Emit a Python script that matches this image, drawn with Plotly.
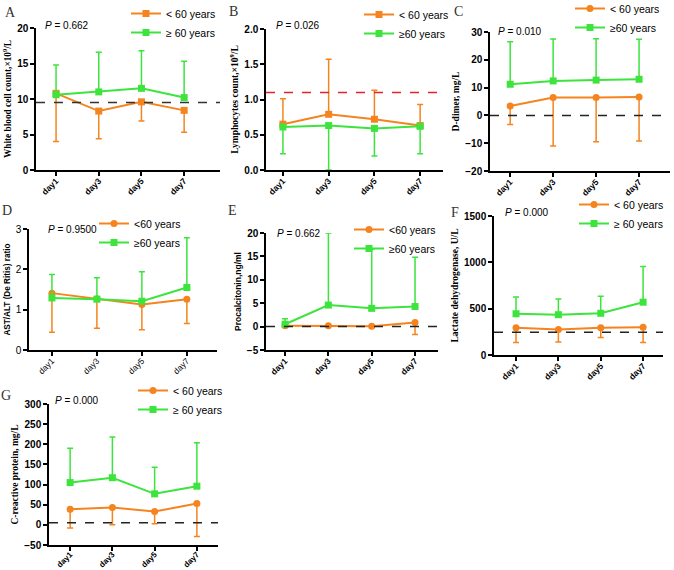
import plotly.graph_objects as go

W, H = 674, 570
days = ["day1", "day3", "day5", "day7"]

# ---- data (means and one-sided error bounds) ----
A_young = [10.8, 8.3, 9.6, 8.4]
A_young_low = [4.0, 4.4, 6.9, 5.3]
A_old = [10.6, 11.0, 11.5, 10.2]
A_old_high = [14.8, 16.6, 16.8, 15.3]
A_ref = 9.5

B_young = [0.65, 0.79, 0.72, 0.63]
B_young_high = [1.01, 1.57, 1.13, 0.93]
B_old = [0.61, 0.63, 0.59, 0.62]
B_old_low = [0.23, 0.0, 0.20, 0.23]
B_ref = 1.1

C_young = [3.4, 6.4, 6.4, 6.6]
C_young_low = [-3.3, -11.0, -9.5, -9.2]
C_old = [11.2, 12.4, 12.7, 13.0]
C_old_high = [26.5, 27.5, 27.6, 27.4]
C_ref = 0

D_young = [1.41, 1.27, 1.13, 1.26]
D_young_low = [0.44, 0.54, 0.50, 0.66]
D_old = [1.29, 1.26, 1.21, 1.55]
D_old_high = [1.87, 1.79, 1.94, 2.78]

E_young = [0.2, 0.2, 0.1, 0.9]
E_young_low = [0.1, 0.1, 0.0, -1.7]
E_old = [0.5, 4.6, 3.9, 4.3]
E_old_high = [1.7, 20.0, 16.6, 14.8]
E_ref = 0

F_young = [295, 275, 295, 300]
F_young_low = [135, 140, 190, 135]
F_old = [445, 435, 450, 570]
F_old_high = [625, 605, 635, 955]
F_ref = 245

G_young = [39, 43, 33, 53]
G_young_low = [-8, 0, 3, -29]
G_old = [105, 117, 77, 96]
G_old_high = [190, 218, 143, 204]
G_ref = 5

ORANGE = "#F5841F"
GREEN = "#3DE43D"
SERIF = "Liberation Serif"
SANS = "Liberation Sans"

panels = [
    dict(letter="A", px=(36, 220, 28, 170), xr=(-0.47, 3.84), yr=(0, 20), dt=5,
         young=A_young, ylo=A_young_low, old=A_old, ohi=A_old_high, ref=A_ref, refc="#333",
         title="White blood cell count,×10<sup>9</sup>/L", tfont=SERIF, tsize=9.3,
         p="0.662", ppos=(43, 25), lpos=(170, 14), letpos=(10, 13),
         names=("< 60 years", "≥ 60 years"), ysym="square", flip=False),
    dict(letter="B", px=(266, 443, 29, 170), xr=(-0.37, 3.50), yr=(0, 2), dt=0.5,
         young=B_young, ylo=B_young_high, old=B_old, ohi=B_old_low, ref=B_ref, refc="#E8202A",
         title="Lymphocytes count,×10<sup>9</sup>/L", tfont=SERIF, tsize=9.5,
         p="0.026", ppos=(274, 25), lpos=(403, 15), letpos=(233, 12),
         names=("< 60 years", "≥60 years"), ysym="square", flip=True, fmt=".1f"),
    dict(letter="C", px=(490, 670, 32, 171), xr=(-0.47, 3.72), yr=(-20, 30), dt=10,
         young=C_young, ylo=C_young_low, old=C_old, ohi=C_old_high, ref=C_ref, refc="#222",
         title="D-dimer, mg/L", tfont=SERIF, tsize=9.5,
         p="0.010", ppos=(496, 32), lpos=(614, 9), letpos=(458, 12),
         names=("< 60 years", "≥60 years"), ysym="circle", flip=False),
    dict(letter="D", px=(29, 217, 229, 350), xr=(-0.51, 3.67), yr=(0, 3), dt=1,
         young=D_young, ylo=D_young_low, old=D_old, ohi=D_old_high, ref=None, refc=None,
         title="AST/ALT (De Ritis) ratio", tfont=SANS, tsize=8.2,
         p="0.9500", ppos=(46, 229), lpos=(138, 224), letpos=(7, 210),
         names=("<60 years", "≥60 years"), ysym="circle", flip=False, plain=True),
    dict(letter="E", px=(266, 438, 233, 350), xr=(-0.44, 3.53), yr=(-5, 20), dt=5,
         young=E_young, ylo=E_young_low, old=E_old, ohi=E_old_high, ref=E_ref, refc="#222",
         title="Procalcitonin,ng/ml", tfont=SANS, tsize=8.5,
         p="0.662", ppos=(275, 234), lpos=(393, 230), letpos=(232, 210),
         names=("<60 years", "≥60 years"), ysym="circle", flip=False),
    dict(letter="F", px=(494, 663, 216, 355), xr=(-0.52, 3.47), yr=(0, 1500), dt=500,
         young=F_young, ylo=F_young_low, old=F_old, ohi=F_old_high, ref=F_ref, refc="#222",
         title="Lactate dehydrogenase, U/L", tfont=SERIF, tsize=9.5,
         p="0.000", ppos=(503, 212), lpos=(618, 205), letpos=(455, 212),
         names=("< 60 years", "≥ 60 years"), ysym="circle", flip=False),
    dict(letter="G", px=(49, 218, 404, 545), xr=(-0.5, 3.5), yr=(-50, 300), dt=50,
         young=G_young, ylo=G_young_low, old=G_old, ohi=G_old_high, ref=G_ref, refc="#222",
         title="C-reactive protein, mg/L", tfont=SERIF, tsize=9.5,
         p="0.000", ppos=(53, 400), lpos=(177, 391), letpos=(6, 395),
         names=("< 60 years", "≥ 60 years"), ysym="circle", flip=False,
         xfs=8, xso=-4),
]

fig = go.Figure()
layout = dict(width=W, height=H, margin=dict(l=0, r=0, t=0, b=0, autoexpand=False),
              paper_bgcolor="white", plot_bgcolor="white", showlegend=True)
annotations = []
shapes = []

for i, p in enumerate(panels):
    n = i + 1
    xs = "" if n == 1 else str(n)
    xa, ya = "x" + xs, "y" + xs
    lg = "legend" + xs
    x0, x1, yt, yb = p["px"]
    plain = p.get("plain", False)
    tw = "normal" if plain else "bold"

    young, ybound = p["young"], p["ylo"]
    old, obound = p["old"], p["ohi"]
    if not p["flip"]:
        ey = dict(type="data", symmetric=False, array=[0] * 4,
                  arrayminus=[m - b for m, b in zip(young, ybound)],
                  color=ORANGE, thickness=1.5, width=3)
        eo = dict(type="data", symmetric=False, arrayminus=[0] * 4,
                  array=[b - m for m, b in zip(old, obound)],
                  color=GREEN, thickness=1.5, width=3)
    else:
        ey = dict(type="data", symmetric=False, arrayminus=[0] * 4,
                  array=[b - m for m, b in zip(young, ybound)],
                  color=ORANGE, thickness=1.5, width=3)
        eo = dict(type="data", symmetric=False, array=[0] * 4,
                  arrayminus=[m - b for m, b in zip(old, obound)],
                  color=GREEN, thickness=1.5, width=3)

    fig.add_trace(go.Scatter(x=days, y=young, name=p["names"][0], mode="lines+markers",
                             line=dict(color=ORANGE, width=2),
                             marker=dict(symbol=p["ysym"], size=7, color=ORANGE),
                             error_y=ey, xaxis=xa, yaxis=ya, legend=lg))
    fig.add_trace(go.Scatter(x=days, y=old, name=p["names"][1], mode="lines+markers",
                             line=dict(color=GREEN, width=2),
                             marker=dict(symbol="square", size=7, color=GREEN),
                             error_y=eo, xaxis=xa, yaxis=ya, legend=lg))

    axkw = dict(showline=True, linecolor="black", linewidth=1.5, ticks="outside",
                ticklen=4, tickwidth=1.5, tickcolor="black", showgrid=False,
                zeroline=False)
    layout["xaxis" + xs] = dict(axkw, domain=[x0 / W, x1 / W], anchor=ya,
                                range=list(p["xr"]), tickangle=-45,
                                ticklabelstandoff=p.get("xso", -3),
                                tickfont=dict(family=SANS, size=p.get("xfs", 8.5),
                                              color="black", weight=tw),
                                categoryorder="array", categoryarray=days)
    yax = dict(axkw, domain=[1 - yb / H, 1 - yt / H], anchor=xa,
               range=list(p["yr"]), dtick=p["dt"], tick0=0,
               tickfont=dict(family=SANS, size=10, color="black", weight=tw),
               title=dict(text=p["title"], standoff=4,
                          font=dict(family=p["tfont"], size=p["tsize"],
                                    color="black", weight="bold")))
    if "fmt" in p:
        yax["tickformat"] = p["fmt"]
    layout["yaxis" + xs] = yax

    if p["ref"] is not None:
        shapes.append(dict(type="line", xref=xa + " domain", yref=ya, x0=0, x1=1,
                           y0=p["ref"], y1=p["ref"],
                           line=dict(color=p["refc"], width=1.5, dash="dash")))

    annotations.append(dict(xref="paper", yref="paper", x=p["ppos"][0] / W,
                            y=1 - p["ppos"][1] / H, xanchor="left", yanchor="middle",
                            showarrow=False, text="<i>P</i> = " + p["p"],
                            font=dict(family=SANS, size=10, color="black")))
    annotations.append(dict(xref="paper", yref="paper", x=p["letpos"][0] / W,
                            y=1 - p["letpos"][1] / H, xanchor="center", yanchor="middle",
                            showarrow=False, text=p["letter"],
                            font=dict(family=SERIF, size=14, color="#333")))

    layout[lg] = dict(x=(p["lpos"][0] - 44) / W, y=1 - (p["lpos"][1] - 15) / H,
                      xanchor="left", yanchor="top", bgcolor="rgba(0,0,0,0)",
                      font=dict(family=SANS, size=10.5, color="black"),
                      tracegroupgap=0, itemwidth=30)

layout["annotations"] = annotations
layout["shapes"] = shapes
fig.update_layout(**layout)
fig.write_html("out.html", config={"displayModeBar": False},
               post_script="document.body.style.margin='0';document.body.style.padding='0';")
